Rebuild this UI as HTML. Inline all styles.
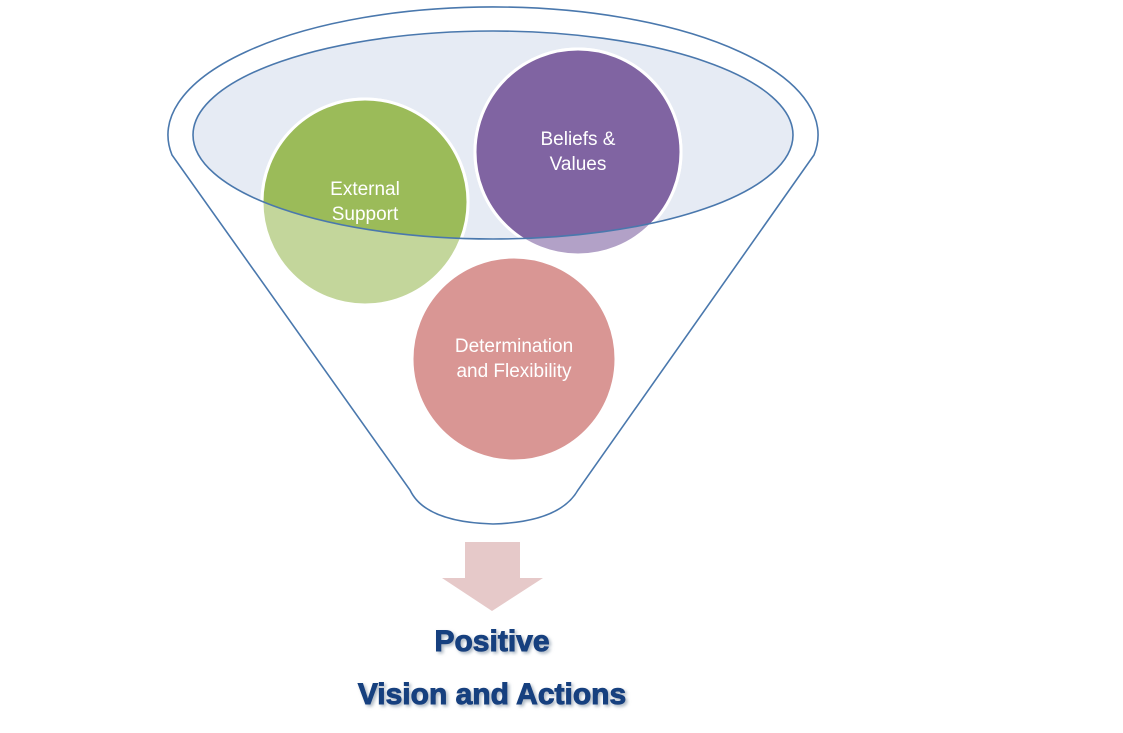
<!DOCTYPE html>
<html><head><meta charset="utf-8"><style>
html,body{margin:0;padding:0;background:#fff;width:1123px;height:733px;overflow:hidden}
</style></head><body>
<svg width="1123" height="733" viewBox="0 0 1123 733" xmlns="http://www.w3.org/2000/svg">
<defs>
<clipPath id="inner"><ellipse cx="493" cy="135" rx="300" ry="104"/></clipPath>
<filter id="sh" x="-10%" y="-20%" width="120%" height="150%"><feDropShadow dx="2" dy="2" stdDeviation="1.5" flood-color="#8899aa" flood-opacity="0.7"/></filter>
</defs>
<path d="M172,155 A325,128 0 1 1 814,155 L578,490 Q560,522 493,524 Q425,522 410,490 Z" fill="#fff" stroke="#4a78ad" stroke-width="1.6"/>
<ellipse cx="493" cy="135" rx="300" ry="104" fill="#e6ebf4"/>
<circle cx="365" cy="202" r="103" fill="#c3d69b" stroke="#fff" stroke-width="3"/>
<circle cx="578" cy="152" r="103" fill="#b2a1c7" stroke="#fff" stroke-width="3"/>
<g clip-path="url(#inner)">
<circle cx="365" cy="202" r="103" fill="#9bbb59" stroke="#fff" stroke-width="3"/>
<circle cx="578" cy="152" r="103" fill="#8064a2" stroke="#fff" stroke-width="3"/>
</g>
<circle cx="514" cy="359" r="102" fill="#d99694" stroke="#fff" stroke-width="3"/>
<ellipse cx="493" cy="135" rx="300" ry="104" fill="none" stroke="#4a78ad" stroke-width="1.6"/>
<g font-family="Liberation Sans, sans-serif" font-size="19" fill="#fff" text-anchor="middle">
<text x="365" y="195">External</text><text x="365" y="220">Support</text>
<text x="578" y="145">Beliefs &amp;</text><text x="578" y="170">Values</text>
<text x="514" y="352">Determination</text><text x="514" y="377">and Flexibility</text>
</g>
<path d="M465,542 H520 V578 H543 L492,611 L442,578 H465 Z" fill="#e6c9c9"/>
<g font-family="Liberation Sans, sans-serif" font-weight="bold" font-size="30" fill="#17407f" stroke="#17407f" stroke-width="1" text-anchor="middle" filter="url(#sh)">
<text x="492" y="651">Positive</text>
<text x="492" y="704">Vision and Actions</text>
</g>
</svg>
</body></html>
